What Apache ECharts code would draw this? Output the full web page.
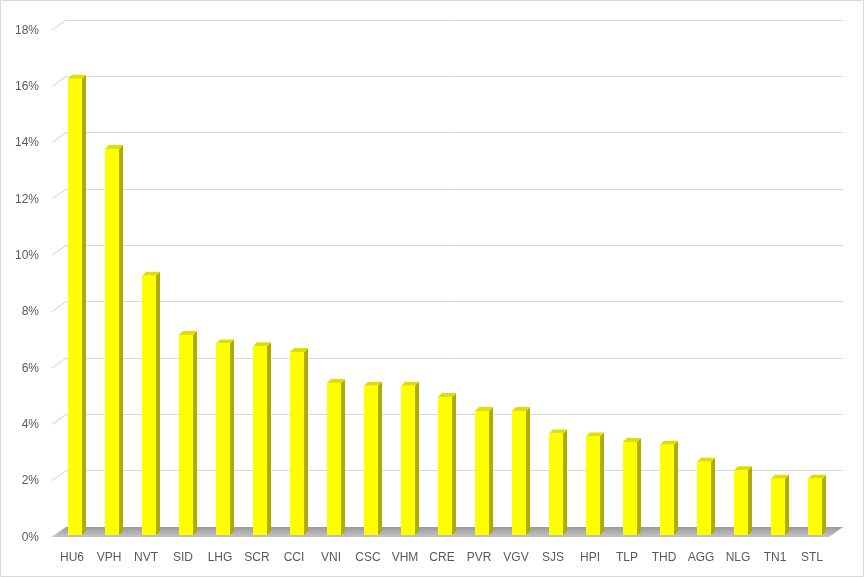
<!DOCTYPE html>
<html><head><meta charset="utf-8">
<script src="https://cdn.jsdelivr.net/npm/echarts@6/dist/echarts.min.js"></script>
<style>html,body{margin:0;padding:0;background:#fff}#c{width:864px;height:577px}</style>
</head><body><div id="c"></div>
<script>
const categories = ['HU6','VPH','NVT','SID','LHG','SCR','CCI','VNI','CSC','VHM','CRE','PVR','VGV','SJS','HPI','TLP','THD','AGG','NLG','TN1','STL'];
const values = [16.2,13.7,9.2,7.1,6.8,6.7,6.5,5.4,5.3,5.3,4.9,4.4,4.4,3.6,3.5,3.3,3.2,2.6,2.3,2.0,2.0];
const yTicks = [0,2,4,6,8,10,12,14,16,18];

const FRONT_DX = -14, FRONT_DY = 10;   // wall-to-front depth shift
const BAR_DX = -9.5, BAR_DY = 8;       // bar front plane shift
const BAR_HALF = 7, SIDE_DX = 4, SIDE_DY = -4;

const chart = echarts.init(document.getElementById('c'), null, {renderer:'canvas'});
chart.setOption({
  animation: false,
  backgroundColor: '#ffffff',
  graphic: [{type:'rect', shape:{x:0.5,y:0.5,width:863,height:576}, style:{fill:'none', stroke:'#d9d9d9', lineWidth:1}, z:100}],
  grid: {left:66, right:21, top:20, bottom:50},
  xAxis: {
    type:'category', data: categories,
    axisLine:{show:false}, axisTick:{show:false},
    axisLabel:{color:'#595959', fontSize:12, fontFamily:'Liberation Sans', margin:25, padding:[0,25,0,0], interval:0}
  },
  yAxis: {
    type:'value', min:0, max:18, interval:2,
    axisLine:{show:false}, axisTick:{show:false},
    splitLine:{lineStyle:{color:'#d9d9d9', width:1}},
    axisLabel:{color:'#595959', fontSize:12, fontFamily:'Liberation Sans', margin:27,
      verticalAlign:'top', lineHeight:21,
      formatter: v => v + '%'}
  },
  series: [
    {
      type:'custom', data:[[0,0]], z:1, silent:true,
      renderItem: (params, api) => {
        const cs = params.coordSys;
        const by = cs.y + cs.height;
        return {
          type:'polygon',
          shape:{points:[[cs.x, by],[cs.x+cs.width, by],[cs.x+cs.width+FRONT_DX, by+FRONT_DY],[cs.x+FRONT_DX, by+FRONT_DY]]},
          style:{fill:new echarts.graphic.LinearGradient(0,0,0,1,[{offset:0,color:'#9a9a9a'},{offset:1,color:'#c4c4c4'}])}
        };
      }
    },
    {
      type:'custom', data: yTicks.map(v => [0, v]), z:2, silent:true,
      renderItem: (params, api) => {
        const cs = params.coordSys;
        const p = api.coord([0, api.value(1)]);
        return {
          type:'line',
          shape:{x1:cs.x+FRONT_DX, y1:p[1]+FRONT_DY, x2:cs.x, y2:p[1]},
          style:{stroke:'#d0d0d0', lineWidth:1}
        };
      }
    },
    {
      type:'custom', data: values.map((v,i)=>[i,v]), z:3, silent:true,
      encode:{x:0, y:1},
      renderItem: (params, api) => {
        const top = api.coord([api.value(0), api.value(1)]);
        const base = api.coord([api.value(0), 0]);
        const cx = top[0] + BAR_DX;
        const ty = top[1] + BAR_DY;
        const by = base[1] + BAR_DY;
        const l = cx - BAR_HALF, r = cx + BAR_HALF;
        return {
          type:'group',
          children:[
            {type:'polygon', shape:{points:[[r,ty],[r+SIDE_DX,ty+SIDE_DY],[r+SIDE_DX,by+SIDE_DY],[r,by]]}, style:{fill:'#adad00'}},
            {type:'polygon', shape:{points:[[l,ty],[r,ty],[r+SIDE_DX,ty+SIDE_DY],[l+SIDE_DX,ty+SIDE_DY]]}, style:{fill:'#dede00'}},
            {type:'rect', shape:{x:l, y:ty, width:r-l, height:by-ty}, style:{fill:'#ffff00'}}
          ]
        };
      }
    }
  ]
});
</script></body></html>
